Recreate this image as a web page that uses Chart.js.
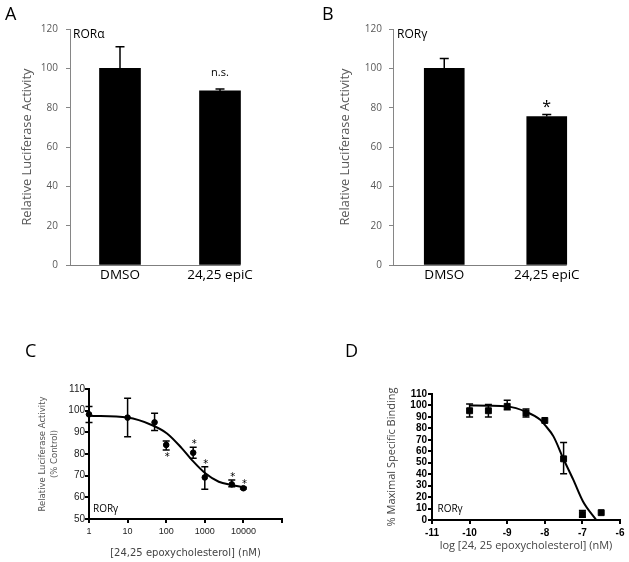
<!DOCTYPE html>
<html>
<head>
<meta charset="utf-8">
<script src="https://cdn.jsdelivr.net/npm/chart.js@4.4.1/dist/chart.umd.min.js"></script>
<style>
  body { margin: 0; background: #fff; }
  canvas { position: absolute; }
</style>
</head>
<body>
<canvas id="chartA" width="310" height="290" style="left:0;top:0"></canvas>
<canvas id="chartB" width="319" height="290" style="left:310px;top:0"></canvas>
<canvas id="chartC" width="310" height="272" style="left:0;top:290px"></canvas>
<canvas id="chartD" width="319" height="272" style="left:310px;top:290px"></canvas>
<script>
// A / B - luciferase reporter
const barLabels = ['DMSO', '24,25 epiC'];
const rorAlpha = [100, 88.5];
const rorAlphaErr = [11, 1];
const rorAlphaMarks = ['', 'n.s.'];
const rorGamma = [100, 75.5];
const rorGammaErr = [5, 1];
const rorGammaMarks = ['', '*'];

// C - dose response (nM)
const doseNm = [1, 10, 50, 100, 500, 1000, 5000, 10000];
const doseActivity = [98.3, 96.8, 94.6, 84.2, 80.6, 69.2, 66, 64.2];
const doseLow = [94.5, 88, 90.8, 81.8, 78, 63.7, 64.9, 63.8];
const doseHigh = [101.9, 105.7, 98.8, 86, 83.1, 74.1, 68, 64.7];
const doseMarks = ['', '', '', '*', '*', '*', '*', '*'];
const doseMarksBelow = [false, false, false, true, false, false, false, false];
const doseFitNm = [1, 10, 42, 105, 255, 465, 1030, 2300, 5100, 10000];
const doseFit = [97.7, 96.8, 93.4, 89.5, 82.6, 77.2, 71.1, 67.2, 65.7, 64.6];
const doseTicks = [1, 10, 100, 1000, 10000, 100000];
const doseTickLabels = ['1', '10', '100', '1000', '10000', ''];

// D - competition binding
const logConc = [-10, -9.5, -9, -8.5, -8, -7.5, -7, -6.5];
const binding = [95.4, 95.4, 99.2, 93.4, 86.9, 53.4, 5.0, 6.4];
const bindingLow = [89.9, 89.9, 96.3, 89.9, null, 40.3, 2.3, null];
const bindingHigh = [101.2, 100.9, 104.5, 96.9, null, 67.7, 8.2, null];
const bindingFitLog = [-10, -9.5, -9, -8.5, -8.12, -8, -7.77, -7.5, -7.24, -6.98, -6.63];
const bindingFit = [100, 99.8, 99.2, 94.5, 87.5, 83, 73, 53, 35, 16, 0];

// error bars + significance marks, read from dataset.errLow / errHigh / marks
const errorBars = {
  id: 'errorBars',
  afterDatasetsDraw(chart, args, opts) {
    const ctx = chart.ctx;
    const y = chart.scales.y;
    chart.data.datasets.forEach((ds, i) => {
      if (!ds.errHigh) return;
      chart.getDatasetMeta(i).data.forEach((el, j) => {
        const hi = ds.errHigh[j];
        if (hi == null) return;
        const hiPx = y.getPixelForValue(hi);
        const lo = ds.errLow ? ds.errLow[j] : null;
        const loPx = lo == null ? el.y : y.getPixelForValue(lo);
        const half = opts.capWidth / 2;
        ctx.save();
        ctx.strokeStyle = '#000';
        ctx.lineWidth = opts.lineWidth;
        ctx.beginPath();
        ctx.moveTo(el.x, loPx);
        ctx.lineTo(el.x, hiPx);
        ctx.moveTo(el.x - half, hiPx);
        ctx.lineTo(el.x + half, hiPx);
        if (lo != null) {
          ctx.moveTo(el.x - half, loPx);
          ctx.lineTo(el.x + half, loPx);
        }
        ctx.stroke();
        const mark = ds.marks && ds.marks[j];
        if (mark) {
          ctx.font = opts.markFont;
          ctx.fillStyle = '#000';
          ctx.textAlign = 'center';
          ctx.textBaseline = 'alphabetic';
          const below = ds.marksBelow && ds.marksBelow[j];
          const ty = below ? loPx + opts.gapBelow : hiPx - opts.gapAbove;
          ctx.fillText(mark, el.x + (opts.markDx || 0), ty);
        }
        ctx.restore();
      });
    });
  }
};

// x axis line of the bar panels, stops under the last bar
const baseline = {
  id: 'baseline',
  beforeDatasetsDraw(chart, args, opts) {
    const { ctx, chartArea, scales: { y } } = chart;
    const bars = chart.getDatasetMeta(0).data;
    const last = bars[bars.length - 1];
    const py = Math.round(y.getPixelForValue(0)) + 0.5;
    ctx.save();
    ctx.strokeStyle = opts.color;
    ctx.lineWidth = 1;
    ctx.beginPath();
    ctx.moveTo(chartArea.left, py);
    ctx.lineTo(last.x + last.width / 2, py);
    ctx.stroke();
    ctx.restore();
  }
};

// panel letter and receptor label
const panelText = {
  id: 'panelText',
  afterDraw(chart, args, opts) {
    const { ctx, chartArea } = chart;
    ctx.save();
    ctx.textAlign = 'left';
    ctx.textBaseline = 'alphabetic';
    opts.items.forEach(it => {
      ctx.font = it.font;
      ctx.fillStyle = it.color || '#000';
      let x = it.x, y = it.y;
      if (it.area === 'top') { x += chartArea.left; y += chartArea.top; }
      if (it.area === 'bottom') { x += chartArea.left; y += chartArea.bottom; }
      ctx.fillText(it.text, x, y);
    });
    ctx.restore();
  }
};

const base = { responsive: false, animation: false, devicePixelRatio: 1 };
const openSans = (size, weight) => ({ family: 'Open Sans', size, weight: weight || 'normal' });

function barPanel(id, values, errs, marks, opt) {
  return new Chart(document.getElementById(id), {
    type: 'bar',
    data: {
      labels: barLabels,
      datasets: [{
        data: values,
        backgroundColor: '#000',
        barThickness: opt.barWidth,
        errHigh: values.map((v, i) => v + errs[i]),
        marks: marks
      }]
    },
    options: {
      ...base,
      layout: { padding: { left: 0, top: 29, right: opt.padRight, bottom: 0 } },
      plugins: {
        legend: { display: false },
        tooltip: { enabled: false },
        errorBars: { capWidth: 9, lineWidth: 1.5, markFont: opt.markFont, gapAbove: opt.markGap },
        baseline: { color: '#7f7f7f' },
        panelText: { items: opt.texts }
      },
      scales: {
        x: {
          grid: { display: false, tickLength: 0 },
          border: { display: false },
          ticks: { color: '#000', font: openSans(13.5), padding: 2, autoSkip: false, maxRotation: 0 },
          afterFit: s => { s.height = 25; }
        },
        y: {
          min: 0, max: 120,
          ticks: { stepSize: 20, color: '#595959', font: openSans(10), padding: opt.tickPad },
          grid: { drawOnChartArea: false, tickLength: 4, color: '#868686' },
          border: { color: '#868686' },
          title: {
            display: true, text: 'Relative Luciferase Activity', color: '#595959',
            font: openSans(12.8), padding: { top: opt.titlePad, bottom: 0 }
          },
          afterFit: s => { s.width = opt.axisLeft; }
        }
      }
    },
    plugins: [errorBars, baseline, panelText]
  });
}

barPanel('chartA', rorAlpha, rorAlphaErr, rorAlphaMarks, {
  barWidth: 41, padRight: 40, axisLeft: 70, tickPad: 8, titlePad: 20,
  markFont: '11px "Open Sans"', markGap: 13,
  texts: [
    { text: 'A', x: 5, y: 20, font: '18px "Open Sans"' },
    { text: 'RORα', x: 3, y: 9, area: 'top', font: '12px "Open Sans"' }
  ]
});

barPanel('chartB', rorGamma, rorGammaErr, rorGammaMarks, {
  barWidth: 40, padRight: 31, axisLeft: 83, tickPad: 7, titlePad: 28,
  markFont: '16px "Open Sans"', markGap: 2.5,
  texts: [
    { text: 'B', x: 12, y: 19.5, font: '18px "Open Sans"' },
    { text: 'RORγ', x: 4, y: 9, area: 'top', font: '12px "Open Sans"' }
  ]
});

const blackGrid = { drawOnChartArea: false, tickLength: 4, color: '#000', lineWidth: 2 };
const blackBorder = { color: '#000', width: 2 };

new Chart(document.getElementById('chartC'), {
  type: 'scatter',
  data: {
    datasets: [
      {
        data: doseFitNm.map((x, i) => ({ x, y: doseFit[i] })),
        showLine: true, borderColor: '#000', borderWidth: 2, pointRadius: 0,
        cubicInterpolationMode: 'monotone', clip: false
      },
      {
        data: doseNm.map((x, i) => ({ x, y: doseActivity[i] })),
        backgroundColor: '#000', borderColor: '#000', pointRadius: 2.8, clip: false,
        errLow: doseLow, errHigh: doseHigh, marks: doseMarks, marksBelow: doseMarksBelow
      }
    ]
  },
  options: {
    ...base,
    layout: { padding: { left: 0, top: 99, right: 28, bottom: 0 } },
    plugins: {
      legend: { display: false },
      tooltip: { enabled: false },
      errorBars: { capWidth: 7, lineWidth: 1.5, markFont: '10px "DejaVu Sans"', gapAbove: 0, gapBelow: 9.5, markDx: 1 },
      panelText: { items: [
        { text: 'C', x: 25, y: 66.7, font: '18px "Open Sans"' },
        { text: 'RORγ', x: 4, y: -7.5, area: 'bottom', font: '10px "Open Sans"' }
      ] }
    },
    scales: {
      x: {
        type: 'logarithmic', min: 1, max: 100000,
        afterBuildTicks: s => { s.ticks = doseTicks.map(v => ({ value: v })); },
        ticks: { callback: (v, i) => doseTickLabels[i], autoSkip: false, maxRotation: 0,
                 color: '#222', font: { family: 'Liberation Sans', size: 9 }, padding: 3 },
        grid: blackGrid, border: blackBorder,
        title: { display: true, text: '[24,25 epoxycholesterol] (nM)', color: '#444',
                 font: { family: 'DejaVu Sans', size: 10 }, padding: { top: 0, bottom: 3 } },
        afterFit: s => { s.height = 43; }
      },
      y: {
        min: 50, max: 110,
        ticks: { stepSize: 10, autoSkip: false, color: '#222', font: { family: 'Liberation Sans', size: 10 }, padding: 0 },
        grid: blackGrid, border: blackBorder,
        title: { display: true, text: ['Relative Luciferase Activity', '(% Control)'], color: '#555',
                 font: { family: 'DejaVu Sans', size: 8.5, lineHeight: 1.5 }, padding: { top: 36, bottom: 0 } },
        afterFit: s => { s.width = 89; }
      }
    }
  },
  plugins: [errorBars, panelText]
});

new Chart(document.getElementById('chartD'), {
  type: 'scatter',
  data: {
    datasets: [
      {
        data: bindingFitLog.map((x, i) => ({ x, y: bindingFit[i] })),
        showLine: true, borderColor: '#000', borderWidth: 2, pointRadius: 0,
        cubicInterpolationMode: 'monotone', clip: false
      },
      {
        data: logConc.map((x, i) => ({ x, y: binding[i] })),
        pointStyle: 'rect', backgroundColor: '#000', borderColor: '#000', pointRadius: 4.2, clip: false,
        errLow: bindingLow, errHigh: bindingHigh
      }
    ]
  },
  options: {
    ...base,
    layout: { padding: { left: 0, top: 104, right: 9, bottom: 0 } },
    plugins: {
      legend: { display: false },
      tooltip: { enabled: false },
      errorBars: { capWidth: 7, lineWidth: 1.5 },
      panelText: { items: [
        { text: 'D', x: 35, y: 66.7, font: '18px "Open Sans"' },
        { text: 'RORγ', x: 5.5, y: -8.3, area: 'bottom', font: '10px "Open Sans"' }
      ] }
    },
    scales: {
      x: {
        type: 'linear', min: -11, max: -6,
        ticks: { stepSize: 1, autoSkip: false, color: '#000', font: { family: 'Liberation Sans', size: 10, weight: 'bold' }, padding: 3 },
        grid: blackGrid, border: blackBorder,
        title: { display: true, text: 'log [24, 25 epoxycholesterol] (nM)', color: '#444',
                 font: openSans(11), padding: { top: 0, bottom: 10 } },
        afterFit: s => { s.height = 42; }
      },
      y: {
        min: 0, max: 110,
        ticks: { stepSize: 10, autoSkip: false, color: '#000', font: { family: 'Liberation Sans', size: 10, weight: 'bold' }, padding: 1 },
        grid: blackGrid, border: blackBorder,
        title: { display: true, text: '% Maximal Specific Binding', color: '#444',
                 font: openSans(11), padding: { top: 75, bottom: 0 } },
        afterFit: s => { s.width = 122; }
      }
    }
  },
  plugins: [errorBars, panelText]
});
</script>
</body>
</html>
